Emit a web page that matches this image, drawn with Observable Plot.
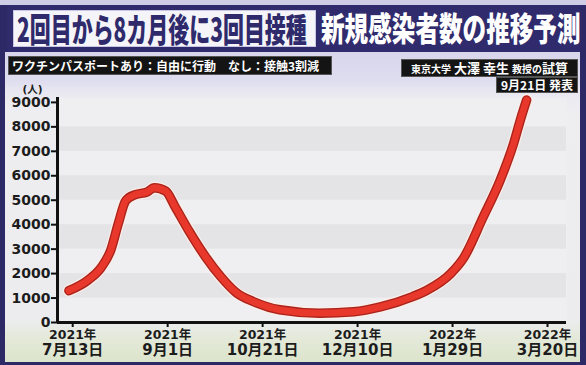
<!DOCTYPE html>
<html><head><meta charset="utf-8">
<script src="https://cdn.jsdelivr.net/npm/d3@7"></script>
<script src="https://cdn.jsdelivr.net/npm/@observablehq/plot@0.6"></script>
<style>
body{margin:0;background:#2d2966;}
#root{position:relative;width:586px;height:365px;overflow:hidden;background:#2d2966;font-family:"Noto Sans CJK JP",sans-serif;}
.abs{position:absolute;}
#topstrip{left:0;top:0;width:586px;height:5px;background:#cfcde6;}
#panel{left:5px;top:52px;width:575px;height:310px;background:linear-gradient(to bottom,#d9d6ec 0px,#dedcef 28px,#e9e8f1 40px,#eeeef1 60px,#ececee 268px,#e4e9da 285px,#dce4cb 310px);}
#titlebar{left:7px;top:5px;width:573px;height:47px;background:#302b6c;}
#t1box{left:13px;top:10px;width:303px;height:37px;background:#f4f4f9;box-shadow:inset 0 0 0 1px #c9c6e4;}
.tt{white-space:nowrap;display:inline-block;transform-origin:left center;font-weight:900;font-size:33px;line-height:37px;}
#t1{left:17px;top:10px;color:#2f2a6b;transform:scaleX(0.635);}
#t2{left:321px;top:9px;color:#ffffff;transform:scaleX(0.715);}
.bb{background:#141414;color:#fff;font-weight:700;white-space:nowrap;box-shadow:0 0 0 1px #555;}
#sub{left:9px;top:57px;width:322px;height:17px;font-size:12px;line-height:17px;padding-left:3px;box-sizing:border-box;}
#src{left:402px;top:60px;width:175px;height:16px;font-size:13px;line-height:16px;text-align:center;}
#src small{font-size:10px;}
#date{left:497px;top:78px;width:80px;height:14px;font-size:12px;line-height:14px;text-align:center;}
#chart{left:0;top:80px;}
</style></head><body>
<div id="root">
  <div class="abs" id="topstrip"></div>
  <div class="abs" id="panel"></div>
  <div class="abs" id="titlebar"></div>
  <div class="abs" id="t1box"></div>
  <div class="abs tt" id="t1"></div>
  <div class="abs tt" id="t2"></div>
  <div class="abs bb" id="sub"></div>
  <div class="abs bb" id="src"></div>
  <div class="abs bb" id="date"></div>
  <div class="abs" id="chart"></div>
</div>
<script>
// ---- text ----
const title1 = "2回目から8カ月後に3回目接種";
const title2 = "新規感染者数の推移予測";
const subtitle = "ワクチンパスポートあり：自由に行動　なし：接触3割減";
const sourceParts = ["東京大学", " 大澤 幸生", "教授の", "試算"];
const announce = "9月21日 発表";
const yUnit = "(人)";

// ---- data ----
const dates = ["2021-07-11","2021-07-21","2021-07-28","2021-08-02","2021-08-06","2021-08-10","2021-08-15",
  "2021-08-21","2021-08-25","2021-08-31","2021-09-05","2021-09-12","2021-09-21","2021-09-29","2021-10-07",
  "2021-10-16","2021-10-30","2021-11-20","2021-12-08","2021-12-22","2022-01-08","2022-01-15","2022-01-28",
  "2022-02-04","2022-02-14","2022-02-23","2022-03-02","2022-03-06","2022-03-09"];
const cases = [1300,1730,2250,2950,4040,4990,5230,
  5330,5510,5370,4720,3770,2680,1870,1230,
  860,520,380,440,640,1060,1300,2000,
  2660,4290,5800,7280,8360,9100];
const tickDates = ["2021-07-13","2021-09-01","2021-10-21","2021-12-10","2022-01-29","2022-03-20"];
const tickYears = ["2021年","2021年","2021年","2021年","2022年","2022年"];
const tickDays = ["7月13日","9月1日","10月21日","12月10日","1月29日","3月20日"];
const yTicks = [0,1000,2000,3000,4000,5000,6000,7000,8000,9000];
const bandStarts = [1000,3000,5000,7000];
const xStart = "2021-07-05", xEnd = "2022-03-30";

document.getElementById("t1").textContent = title1;
document.getElementById("t2").textContent = title2;
document.getElementById("sub").textContent = subtitle;
const src = document.getElementById("src");
src.innerHTML = `<small>${sourceParts[0]}</small>${sourceParts[1]} <small>${sourceParts[2]}</small>${sourceParts[3]}`;
document.getElementById("date").textContent = announce;

const parse = d3.utcParse("%Y-%m-%d");
const data = dates.map((d, i) => ({date: parse(d), value: cases[i]}));
const ticks = tickDates.map(parse);
const xDomain = [parse(xStart), parse(xEnd)];
const font = "'DejaVu Sans','Noto Sans CJK JP',sans-serif";

const lineOpts = {x: "date", y: "value", curve: "monotone-x", strokeLinecap: "round", strokeLinejoin: "round"};

const chart = Plot.plot({
  width: 586, height: 285,
  marginLeft: 57, marginRight: 20, marginTop: 17, marginBottom: 43,
  style: {background: "transparent", fontFamily: font, overflow: "visible"},
  x: {type: "utc", domain: xDomain, axis: null},
  y: {domain: [0, 9200], axis: null},
  marks: [
    Plot.frame({fill: "#efeff1", stroke: null}),
    Plot.rect(bandStarts, {y1: d => d, y2: d => d + 1000, fill: "#e4e4e7"}),
    Plot.line(data, {...lineOpts, stroke: "#fbeee8", strokeWidth: 12}),
    Plot.line(data, {...lineOpts, stroke: "#a9231c", strokeWidth: 9.5}),
    Plot.line(data, {...lineOpts, stroke: "#e8372b", strokeWidth: 6.8}),
    Plot.ruleY([0], {stroke: "#111", strokeWidth: 3}),
    Plot.ruleX([xDomain[0]], {stroke: "#111", strokeWidth: 3}),
    Plot.axisY({ticks: yTicks, tickSize: 6, tickFormat: () => "", label: null, stroke: "#111", strokeWidth: 2}),
    Plot.axisX({ticks: ticks, tickSize: 5, tickFormat: () => "", label: null, stroke: "#111", strokeWidth: 2}),
    Plot.text(yTicks, {y: d => d, frameAnchor: "left", dx: -7, textAnchor: "end", text: d => String(d),
      fontSize: 14, fontWeight: "bold", fill: "#1c1c1c"}),
    Plot.text(ticks, {x: d => d, frameAnchor: "bottom", dy: 16, text: (d, i) => tickYears[i],
      fontSize: 12.5, fontWeight: "bold", fill: "#1c1c1c"}),
    Plot.text(ticks, {x: d => d, frameAnchor: "bottom", dy: 32, text: (d, i) => tickDays[i],
      fontSize: 15, fontWeight: "bold", fill: "#1c1c1c"}),
    Plot.text([yUnit], {frameAnchor: "top-left", dx: -25, dy: -11.5, text: d => d, textAnchor: "middle",
      fontSize: 10.5, fontWeight: "bold", fill: "#1c1c1c"})
  ]
});
document.getElementById("chart").appendChild(chart);
</script>
</body></html>
